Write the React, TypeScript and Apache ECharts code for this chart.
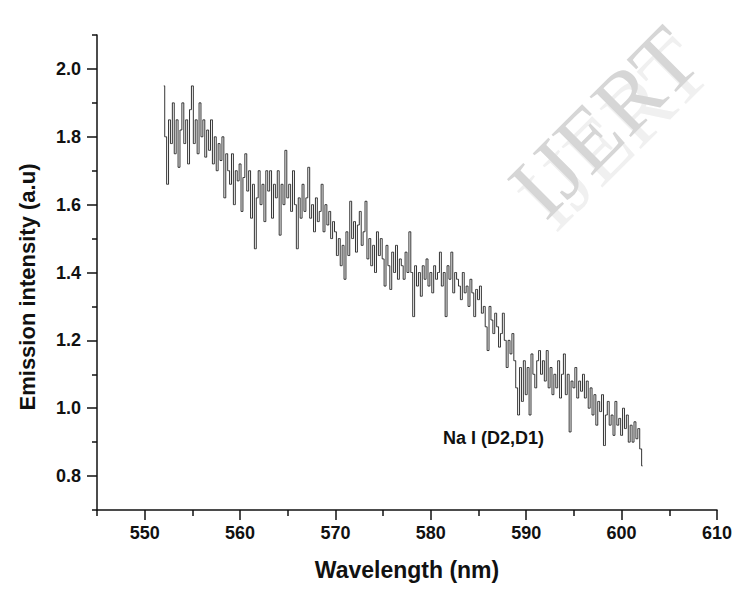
import React, { useEffect, useRef } from "react";
import * as echarts from "echarts";

const START_NM = 552;
const STEP_NM = 0.2;
const intensity: number[] = [
  1.95, 1.80, 1.66, 1.85, 1.78,
  1.90, 1.75, 1.85, 1.71, 1.82,
  1.90, 1.78, 1.85, 1.72, 1.88,
  1.95, 1.78, 1.85, 1.75, 1.90,
  1.80, 1.85, 1.74, 1.82, 1.76,
  1.85, 1.72, 1.80, 1.70, 1.78,
  1.73, 1.80, 1.62, 1.75, 1.70,
  1.66, 1.75, 1.60, 1.70, 1.67,
  1.72, 1.58, 1.68, 1.75, 1.64,
  1.70, 1.56, 1.66, 1.47, 1.62,
  1.70, 1.60, 1.66, 1.55, 1.70,
  1.64, 1.70, 1.56, 1.66, 1.62,
  1.70, 1.51, 1.66, 1.60, 1.76,
  1.62, 1.66, 1.58, 1.70, 1.60,
  1.47, 1.62, 1.56, 1.66, 1.58,
  1.62, 1.71, 1.56, 1.60, 1.52,
  1.62, 1.55, 1.58, 1.66, 1.52,
  1.60, 1.54, 1.58, 1.50, 1.55,
  1.52, 1.45, 1.50, 1.42, 1.48,
  1.38, 1.52, 1.45, 1.61, 1.50,
  1.55, 1.46, 1.54, 1.58, 1.48,
  1.52, 1.61, 1.44, 1.50, 1.42,
  1.48, 1.40, 1.52, 1.45, 1.50,
  1.44, 1.36, 1.48, 1.42, 1.35,
  1.46, 1.40, 1.48, 1.38, 1.44,
  1.42, 1.38, 1.46, 1.40, 1.52,
  1.40, 1.27, 1.42, 1.36, 1.40,
  1.33, 1.42, 1.38, 1.44, 1.36,
  1.40, 1.34, 1.42, 1.38, 1.40,
  1.46, 1.36, 1.40, 1.27, 1.42,
  1.38, 1.46, 1.34, 1.40, 1.38,
  1.36, 1.32, 1.40, 1.34, 1.36,
  1.30, 1.38, 1.34, 1.27, 1.35,
  1.32, 1.36, 1.28, 1.30, 1.24,
  1.17, 1.30, 1.26, 1.22, 1.28,
  1.24, 1.18, 1.22, 1.28, 1.20,
  1.12, 1.20, 1.16, 1.22, 1.14,
  1.06, 0.98, 1.12, 1.02, 1.14,
  1.04, 1.12, 0.98, 1.16, 1.10,
  1.06, 1.14, 1.17, 1.10, 1.14,
  1.08, 1.17, 1.06, 1.12, 1.04,
  1.10, 1.06, 1.14, 1.03, 1.10,
  1.16, 1.04, 1.10, 0.93, 1.08,
  1.06, 1.12, 1.03, 1.08, 1.05,
  1.10, 1.03, 1.08, 1.00, 1.06,
  0.98, 1.04, 0.95, 1.02, 0.99,
  1.04, 0.89, 0.98, 1.02, 0.95,
  0.98, 0.92, 1.02, 0.95, 0.97,
  0.92, 1.00, 0.94, 0.98, 0.90,
  0.95, 0.90, 0.96, 0.91, 0.94,
  0.88, 0.83,
];

const xMajorTicks = [550, 560, 570, 580, 590, 600, 610];
const xMinorTicks = [545, 555, 565, 575, 585, 595, 605];
const yMajorTicks = [0.8, 1.0, 1.2, 1.4, 1.6, 1.8, 2.0];
const yMinorTicks = [0.7, 0.9, 1.1, 1.3, 1.5, 1.7, 1.9, 2.1];

const X_TITLE = "Wavelength (nm)";
const Y_TITLE = "Emission intensity (a.u)";
const ANNOTATION = "Na I (D2,D1)";
const WATERMARK = "IJERT";

const FONT = 'Arial, "Liberation Sans", Helvetica, sans-serif';
const SERIF = '"Liberation Serif", "DejaVu Serif", serif';

export default function App() {
  const ref = useRef<HTMLDivElement>(null);

  useEffect(() => {
    if (!ref.current) return;
    const chart = echarts.init(ref.current, undefined, { renderer: "svg" });
    const data = intensity.map((v, i) => [
      +(START_NM + i * STEP_NM).toFixed(1),
      v,
    ]);
    const axisLine = { show: true, lineStyle: { color: "#111", width: 1.5 } };
    chart.setOption({
      animation: false,
      backgroundColor: "#fff",
      grid: { left: 85, right: 12, top: 27, bottom: 71, containLabel: false },
      xAxis: [
        {
          type: "value",
          min: 545,
          max: 610,
          axisLine,
          splitLine: { show: false },
          axisTick: {
            show: true,
            inside: false,
            length: 10,
            customValues: xMajorTicks,
            lineStyle: { color: "#111", width: 1.5 },
          },
          axisLabel: {
            customValues: xMajorTicks,
            margin: 14,
            fontSize: 18,
            fontWeight: "bold",
            color: "#111",
            fontFamily: FONT,
          },
          name: X_TITLE,
          nameLocation: "middle",
          nameGap: 48,
          nameTextStyle: {
            fontSize: 23,
            fontWeight: "bold",
            color: "#111",
            fontFamily: FONT,
          },
        },
        {
          type: "value",
          position: "bottom",
          min: 545,
          max: 610,
          axisLine: { show: false },
          splitLine: { show: false },
          axisTick: {
            show: true,
            length: 6,
            customValues: xMinorTicks,
            lineStyle: { color: "#111", width: 1.5 },
          },
          axisLabel: { show: false },
        },
      ],
      yAxis: [
        {
          type: "value",
          min: 0.7,
          max: 2.1,
          axisLine,
          splitLine: { show: false },
          axisTick: {
            show: true,
            length: 10,
            customValues: yMajorTicks,
            lineStyle: { color: "#111", width: 1.5 },
          },
          axisLabel: {
            customValues: yMajorTicks,
            formatter: (v: number) => v.toFixed(1),
            margin: 16,
            fontSize: 18,
            fontWeight: "bold",
            color: "#111",
            fontFamily: FONT,
          },
          name: Y_TITLE,
          nameLocation: "middle",
          nameGap: 59,
          nameTextStyle: {
            fontSize: 22,
            fontWeight: "bold",
            color: "#111",
            fontFamily: FONT,
            padding: [0, 29, 0, 0],
          },
        },
        {
          type: "value",
          position: "left",
          min: 0.7,
          max: 2.1,
          axisLine: { show: false },
          splitLine: { show: false },
          axisTick: {
            show: true,
            length: 5,
            customValues: yMinorTicks,
            lineStyle: { color: "#111", width: 1.5 },
          },
          axisLabel: { show: false },
        },
      ],
      graphic: [
        {
          type: "text",
          x: 606,
          y: 126,
          rotation: Math.PI / 4,
          z: 0,
          style: {
            text: WATERMARK,
            fontFamily: SERIF,
            fontSize: 88,
            fill: "#f0f0f0",
            textAlign: "center",
            textVerticalAlign: "middle",
          },
        },
        {
          type: "text",
          x: 596,
          y: 114,
          rotation: Math.PI / 4,
          z: 0,
          style: {
            text: WATERMARK,
            fontFamily: SERIF,
            fontSize: 88,
            fill: "#d6d6d6",
            textAlign: "center",
            textVerticalAlign: "middle",
          },
        },
        {
          type: "text",
          left: 435,
          top: 421,
          z: 10,
          style: {
            text: ANNOTATION,
            fontFamily: FONT,
            fontSize: 18,
            fontWeight: "bold",
            fill: "#111",
          },
        },
      ],
      series: [
        {
          type: "line",
          xAxisIndex: 0,
          yAxisIndex: 0,
          data,
          step: "middle",
          showSymbol: false,
          symbol: "none",
          z: 5,
          lineStyle: { color: "#1e1e1e", width: 0.9 },
        },
      ],
    });
    return () => chart.dispose();
  }, []);

  return <div ref={ref} style={{ width: 727, height: 578 }} />;
}
